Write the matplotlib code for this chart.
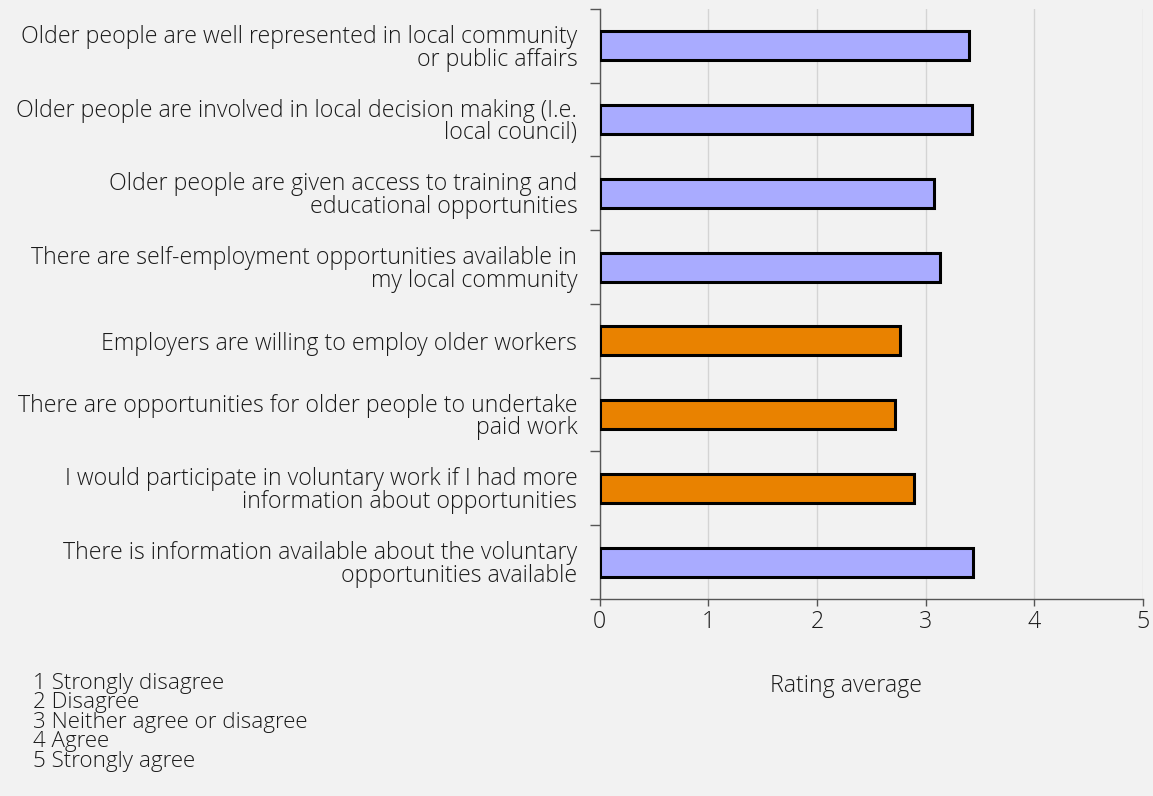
import matplotlib
matplotlib.use("Agg")
import matplotlib.pyplot as plt
import numpy as np

categories = [
    "Older people are well represented in local community\nor public affairs",
    "Older people are involved in local decision making (I.e.\nlocal council)",
    "Older people are given access to training and\neducational opportunities",
    "There are self-employment opportunities available in\nmy local community",
    "Employers are willing to employ older workers",
    "There are opportunities for older people to undertake\npaid work",
    "I would participate in voluntary work if I had more\ninformation about opportunities",
    "There is information available about the voluntary\nopportunities available",
]
values = [3.40, 3.43, 3.08, 3.13, 2.76, 2.72, 2.89, 3.44]
colors = ["#a9abff", "#a9abff", "#a9abff", "#a9abff",
          "#e98200", "#e98200", "#e98200", "#a9abff"]
xticks = [0, 1, 2, 3, 4, 5]
legend_lines = ["1 Strongly disagree", "2 Disagree", "3 Neither agree or disagree",
                "4 Agree", "5 Strongly agree"]
xlabel = "Rating average"

plt.rcParams['font.family'] = ['Open Sans', 'DejaVu Sans']
plt.rcParams['font.weight'] = 'light'
FS = 16.7
TXT = "#1a1a1a"

W, H = 1153, 796
fig = plt.figure(figsize=(W / 100, H / 100), dpi=100)
fig.patch.set_facecolor("#f2f2f2")
ax = fig.add_axes([599.5 / W, 1 - 599 / H, (1143 - 599.5) / W, (599 - 9) / H])
ax.set_facecolor("#f2f2f2")

n = len(categories)
y = np.arange(n)
ax.barh(y, values, height=0.39, color=colors, edgecolor="black", linewidth=2.2, zorder=3)
ax.set_ylim(n - 0.5, -0.5)
ax.set_xlim(0, 5)
ax.set_xticks(xticks)
ax.set_xticklabels([str(t) for t in xticks], fontsize=FS, color=TXT)
ax.set_yticks(y)
ax.set_yticklabels(categories, fontsize=FS, color=TXT, linespacing=0.93)
ax.tick_params(axis="y", which="major", length=0, pad=16)
ax.set_yticks(np.arange(-0.5, n + 0.5, 1), minor=True)
ax.tick_params(axis="y", which="minor", length=7, width=1, color="#555555")
ax.tick_params(axis="x", which="major", length=5, width=1, color="#555555", pad=3)

ax.grid(axis="x", color="#d4d4d4", linewidth=1, zorder=0)
for s in ["top", "right"]:
    ax.spines[s].set_visible(False)
ax.spines["left"].set_color("#555555")
ax.spines["bottom"].set_color("#555555")
ax.spines["left"].set_linewidth(1)
ax.spines["bottom"].set_linewidth(1)

fig.text(846 / W, 1 - 686 / H, xlabel, fontsize=FS, color=TXT, ha="center", va="center")
for i, line in enumerate(legend_lines):
    fig.text(33 / W, 1 - (683 + i * 19.6) / H, line, fontsize=16.1, color=TXT,
             ha="left", va="center")

fig.savefig("out.png", dpi=100, facecolor=fig.get_facecolor())
